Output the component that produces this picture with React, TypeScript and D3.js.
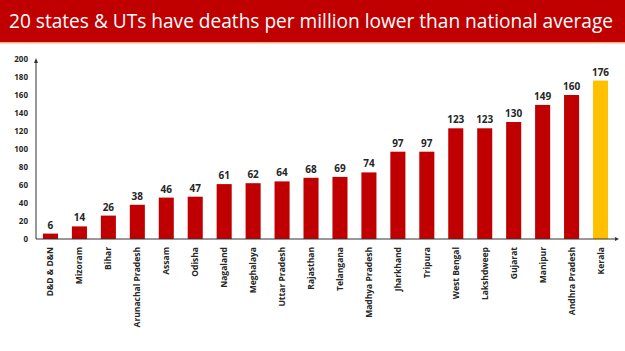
import { useEffect, useRef } from 'react';
import * as d3 from 'd3';

const states = [
  'D&D & D&N', 'Mizoram', 'Bihar', 'Arunachal Pradesh', 'Assam', 'Odisha', 'Nagaland',
  'Meghalaya', 'Uttar Pradesh', 'Rajasthan', 'Telangana', 'Madhya Pradesh', 'Jharkhand',
  'Tripura', 'West Bengal', 'Lakshdweep', 'Gujarat', 'Manipur', 'Andhra Pradesh', 'Kerala',
];
const deathsPerMillion = [6, 14, 26, 38, 46, 47, 61, 62, 64, 68, 69, 74, 97, 97, 123, 123, 130, 149, 160, 176];
const highlighted = ['Kerala'];
const yTicks = [0, 20, 40, 60, 80, 100, 120, 140, 160, 180, 200];
const title = '20 states & UTs have deaths per million lower than national average';

const W = 625;
const H = 351;

export default function App() {
  const svgRef = useRef<SVGSVGElement>(null);

  useEffect(() => {
    if (!svgRef.current) return;
    const root = d3.select(svgRef.current);
    root.selectAll('*').remove();

    root.append('rect').attr('width', W).attr('height', H).attr('fill', '#fff');

    // title band
    root.append('rect').attr('x', 0).attr('y', 0).attr('width', W).attr('height', 42).attr('fill', '#C00000');
    root.append('rect').attr('x', 0).attr('y', 42).attr('width', W).attr('height', 1.5).attr('fill', '#F4B183');
    root
      .append('text')
      .attr('x', 9)
      .attr('y', 28)
      .attr('fill', '#fff')
      .attr('textLength', 604)
      .attr('lengthAdjust', 'spacingAndGlyphs')
      .style('font-family', '"Open Sans", sans-serif')
      .style('font-size', '19.5px')
      .text(title);

    const x0 = 36;
    const x1 = 615;
    const yTop = 59;
    const yBase = 239;

    const x = d3.scaleBand().domain(states).range([x0, x1]).paddingInner(0.48).paddingOuter(0.24);
    const y = d3.scaleLinear().domain([0, 200]).range([yBase, yTop]);

    const g = root.append('g');

    // bars
    g.selectAll('.bar')
      .data(states)
      .enter()
      .append('rect')
      .attr('x', (d) => x(d)!)
      .attr('y', (_, i) => y(deathsPerMillion[i]))
      .attr('width', x.bandwidth())
      .attr('height', (_, i) => yBase - y(deathsPerMillion[i]))
      .attr('fill', (d) => (highlighted.includes(d) ? '#FFC000' : '#C00000'));

    // value labels
    g.selectAll('.val')
      .data(states)
      .enter()
      .append('text')
      .attr('x', (d) => x(d)! + x.bandwidth() / 2)
      .attr('y', (_, i) => y(deathsPerMillion[i]) - 5)
      .attr('text-anchor', 'middle')
      .attr('fill', '#262626')
      .style('font-family', '"Open Sans", sans-serif')
      .style('font-weight', 'bold')
      .style('font-size', '10px')
      .text((_, i) => deathsPerMillion[i]);

    // y axis
    g.selectAll('.ytick')
      .data(yTicks)
      .enter()
      .append('text')
      .attr('x', 28)
      .attr('y', (d) => y(d) + 3)
      .attr('text-anchor', 'end')
      .attr('fill', '#262626')
      .style('font-family', '"Open Sans", sans-serif')
      .style('font-weight', 'bold')
      .style('font-size', '8px')
      .text((d) => d);

    g.append('line').attr('x1', x0).attr('x2', x0).attr('y1', yBase).attr('y2', yTop + 2).attr('stroke', '#333').attr('stroke-width', 1);
    g.append('path').attr('d', `M${x0 - 2},${yTop + 4} L${x0},${yTop - 1} L${x0 + 2},${yTop + 4} Z`).attr('fill', '#333');
    g.append('line').attr('x1', x0).attr('x2', x1 + 1).attr('y1', yBase).attr('y2', yBase).attr('stroke', '#333').attr('stroke-width', 1);
    g.append('path').attr('d', `M${x1},${yBase - 2} L${x1 + 4},${yBase} L${x1},${yBase + 2} Z`).attr('fill', '#333');

    // category labels
    g.selectAll('.xl')
      .data(states)
      .enter()
      .append('text')
      .attr('transform', (d) => `translate(${x(d)! + x.bandwidth() / 2 + 3},${yBase + 8}) rotate(-90)`)
      .attr('text-anchor', 'end')
      .attr('fill', '#262626')
      .style('font-family', '"Open Sans", sans-serif')
      .style('font-weight', 'bold')
      .style('font-size', '8.5px')
      .text((d) => d);
  }, []);

  return (
    <div style={{ position: 'absolute', left: 0, top: 0 }}>
      <svg ref={svgRef} width={W} height={H} style={{ display: 'block' }} />
    </div>
  );
}
